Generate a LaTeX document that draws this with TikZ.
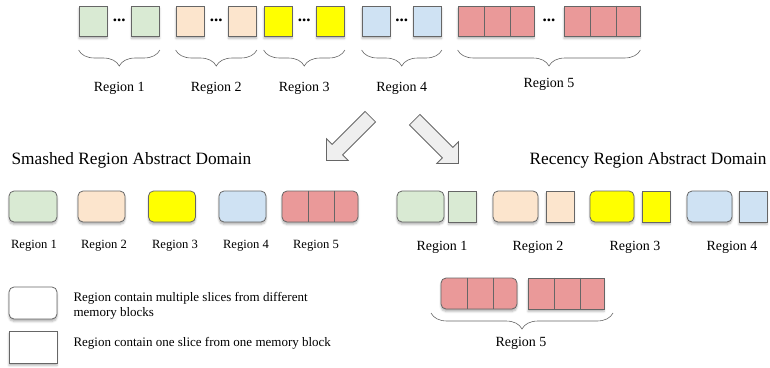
\documentclass[tikz,border=0pt]{standalone}
\usepackage{fontspec}
\setmainfont{Liberation Serif}
\usetikzlibrary{calc,shapes.arrows,shadows.blur,decorations.pathreplacing}

\definecolor{regA}{HTML}{D9EAD3}
\definecolor{regB}{HTML}{FCE5CD}
\definecolor{regC}{HTML}{FFFF00}
\definecolor{regD}{HTML}{CFE2F3}
\definecolor{regE}{HTML}{EA9999}
\definecolor{edgegray}{HTML}{666666}
\definecolor{arrowfill}{HTML}{EFEFEF}

\tikzset{
  cell/.style={draw=edgegray, line width=0.8pt, inner sep=0pt,
    minimum width=28pt, minimum height=30pt,
    blur shadow={shadow xshift=0pt, shadow yshift=-2.5pt,
      shadow blur radius=2pt, shadow opacity=30}},
  blob/.style={cell, rounded corners=5pt, minimum width=47pt, minimum height=31pt},
  triple/.style={cell, minimum width=76pt},
  brc/.style={decorate, decoration={brace, mirror, amplitude=16pt},
    draw=edgegray, line width=0.6pt},
  gap/.style={font=\fontsize{17}{17}\selectfont\bfseries, inner sep=0pt},
  toplbl/.style={font=\fontsize{14}{16}\selectfont},
  midlbl/.style={font=\fontsize{12.6}{15}\selectfont},
  title/.style={font=\fontsize{17.3}{20}\selectfont},
  note/.style={font=\fontsize{13}{14.5}\selectfont, align=left, anchor=west},
  fatarrow/.style={single arrow, draw=edgegray, fill=arrowfill, line width=0.8pt,
    minimum height=62pt, minimum width=30pt, inner ysep=7pt, inner xsep=0pt,
    single arrow head extend=8pt}
}

\begin{document}
\begin{tikzpicture}[x=1pt, y=-1pt]
  \useasboundingbox (0,0) rectangle (770,367);

  % memory slices, first row
  \node[cell, fill=regA] (a1) at (93,21) {};
  \node[cell, fill=regA] (a2) at (145.5,21) {};
  \node[cell, fill=regB] (b1) at (190,21) {};
  \node[cell, fill=regB] (b2) at (242.5,21) {};
  \node[cell, fill=regC] (c1) at (278,21) {};
  \node[cell, fill=regC] (c2) at (330.5,21) {};
  \node[cell, fill=regD] (d1) at (376,21) {};
  \node[cell, fill=regD] (d2) at (427.5,21) {};
  \node[triple, fill=regE] (e1) at (496,21) {};
  \node[triple, fill=regE] (e2) at (602,21) {};
  \foreach \p/\q in {a1/a2, b1/b2, c1/c2, d1/d2, e1/e2}
    \node[gap] at ($(\p.east)!0.5!(\q.west)+(0,-1)$) {...};

  \foreach \p/\q/\t/\y in {a1/a2/1/88, b1/b2/2/88, c1/c2/3/88, d1/d2/4/88, e1/e2/5/84} {
    \coordinate (l\t) at ($(\p.west)+(0,29)$);
    \coordinate (r\t) at ($(\q.east)+(0,29)$);
    \draw[brc] (l\t) -- (r\t);
    \node[toplbl] (top\t) at ($(l\t)!0.5!(r\t)+(0,\y-50)$) {Region \t};
  }

  % the two abstractions
  \node[fatarrow, rotate=-135] (toleft) at (351,136) {};
  \node[fatarrow, rotate=-45] (toright) at (434,139) {};

  \node[title, anchor=west] (smash) at (8,160) {Smashed Region Abstract Domain};
  \node[title, anchor=east] (recency) at (770,160) {Recency Region Abstract Domain};

  % smashed: one region per allocation site
  \node[blob, fill=regA, minimum width=48pt] (s1) at (33,206.5) {};
  \node[blob, fill=regB] (s2) at (101.5,206.5) {};
  \node[blob, fill=regC] (s3) at (172,206.5) {};
  \node[blob, fill=regD] (s4) at (242.5,206.5) {};
  \node[triple, fill=regE, rounded corners=5pt, minimum height=31pt] (s5) at (320,206.5) {};
  \foreach \x/\t in {34/1, 104/2, 175/3, 246/4, 316/5}
    \node[midlbl] (sl\t) at (\x,246) {Region \t};

  % recency: summary region plus most recent slice
  \node[blob, fill=regA] (ra1) at (420.5,206.5) {};
  \node[cell, fill=regA, minimum height=31pt] (ra2) at (462.5,206.5) {};
  \node[blob, fill=regB, minimum width=45pt] (rb1) at (515.5,206.5) {};
  \node[cell, fill=regB, minimum height=31pt] (rb2) at (560,206.5) {};
  \node[blob, fill=regC, minimum width=44pt] (rc1) at (612,206.5) {};
  \node[cell, fill=regC, minimum height=31pt] (rc2) at (656,206.5) {};
  \node[blob, fill=regD, minimum width=45pt] (rd1) at (709.5,206.5) {};
  \node[cell, fill=regD, minimum height=31pt] (rd2) at (753,206.5) {};
  \foreach \x/\t in {442/1, 538/2, 635/3, 732/4}
    \node[toplbl] (rl\t) at (\x,247) {Region \t};

  \node[triple, fill=regE, rounded corners=5pt, minimum height=31pt] (re1) at (479,293.5) {};
  \node[triple, fill=regE, minimum height=31pt] (re2) at (566,293.5) {};
  \coordinate (rel) at (431,313);
  \coordinate (rer) at (613,313);
  \draw[brc] (rel) -- (rer);
  \node[toplbl] (rl5) at (521,343) {Region 5};

  % slices inside the three-part blocks
  \foreach \n in {e1, e2, s5, re1, re2}
    \foreach \f in {0.355, 0.69}
      \draw[edgegray, line width=0.8pt]
        ($(\n.north west)!\f!(\n.north east)$) -- ($(\n.south west)!\f!(\n.south east)$);

  % legend
  \node[blob, fill=white, minimum width=48pt, minimum height=32pt] (key1) at (33,303) {};
  \node[cell, fill=white, minimum width=48pt, minimum height=32pt] (key2) at (33,347) {};
  \node[note] (txt1) at (70,306) {Region contain multiple slices from different\\memory blocks};
  \node[note] (txt2) at (70,343) {Region contain one slice from one memory block};
\end{tikzpicture}
\end{document}
